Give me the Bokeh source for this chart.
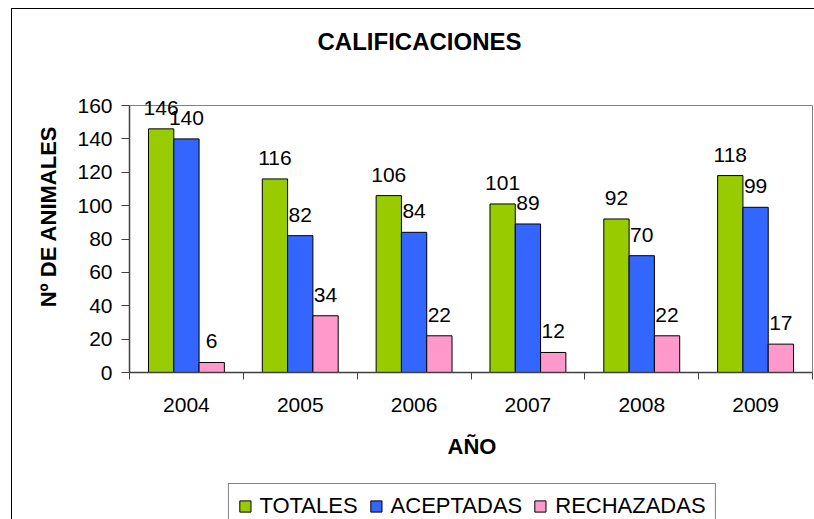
import numpy as np
from bokeh.plotting import figure
from bokeh.layouts import column
from bokeh.models import (Range1d, FixedTicker, CustomJSTickFormatter, LabelSet,
                          ColumnDataSource, Legend, LegendItem, Title)
from bokeh.core.properties import value
from bokeh.embed import file_html
from bokeh.resources import INLINE

# ---- data ----
years = ["2004", "2005", "2006", "2007", "2008", "2009"]
totales = [146, 116, 106, 101, 92, 118]
aceptadas = [140, 82, 84, 89, 70, 99]
rechazadas = [6, 34, 22, 12, 22, 17]
series_names = ["TOTALES", "ACEPTADAS", "RECHAZADAS"]
y_ticks = [0, 20, 40, 60, 80, 100, 120, 140, 160]
y_max = 160
title_text = "CALIFICACIONES"
x_title = "AÑO"
y_title = "Nº DE ANIMALES"

colors = ["#99CC00", "#3366FF", "#FF99CC"]
FONT = "Liberation Sans"

# ---- layout (page pixels) ----
ORIG_X, ORIG_Y = 12, 9          # canvas origin on the page (after css margin+border)
W = 802
H_MAIN = 472
H_LEG = 519 - ORIG_Y - H_MAIN
PLOT_L, PLOT_R, PLOT_T, PLOT_B = 129, 812, 105, 372   # plot-area box
FRAME_T, FRAME_R = 60, 814
LEG_T = 483

n = len(years)
px_x = (PLOT_R - PLOT_L) / n
px_y = (PLOT_B - PLOT_T) / y_max
x_end = n + (FRAME_R - PLOT_R) / px_x
y_end = y_max + (PLOT_T - FRAME_T) / px_y

p = figure(width=W, height=H_MAIN,
           x_range=Range1d(0, x_end), y_range=Range1d(0, y_end),
           output_backend="svg", toolbar_location=None,
           min_border_left=PLOT_L - ORIG_X, min_border_right=ORIG_X + W - FRAME_R,
           min_border_top=FRAME_T - ORIG_Y, min_border_bottom=ORIG_Y + H_MAIN - PLOT_B)
p.xgrid.visible = False
p.ygrid.visible = False
p.outline_line_color = None
p.background_fill_color = "white"
p.border_fill_color = "white"

# plot-area border
p.quad(left=[0], right=[n], bottom=[0], top=[y_max], fill_color=None,
       line_color="#808080", line_width=1)

bar_w = 1 / 4.5
offsets = [-bar_w, 0, bar_w]
sources = []
for vals, off, col in zip([totales, aceptadas, rechazadas], offsets, colors):
    xs = [i + 0.5 + off for i in range(n)]
    src = ColumnDataSource(dict(x=xs, top=vals, label=[str(v) for v in vals]))
    sources.append(src)
    p.vbar(x="x", top="top", width=bar_w, source=src,
           fill_color=col, line_color="black", line_width=1)
    p.add_layout(LabelSet(x="x", y="top", text="label", source=src,
                          text_align="center", text_baseline="alphabetic",
                          y_offset=14, text_font=value(FONT),
                          text_font_size="21px", text_color="black"))

# y axis
yax = p.yaxis[0]
yax.ticker = FixedTicker(ticks=y_ticks)
yax.bounds = (0, y_max)
yax.axis_line_color = "#404040"
yax.axis_line_width = 1.5
yax.major_tick_in = 0
yax.major_tick_out = 8
yax.major_tick_line_color = "#404040"
yax.minor_tick_line_color = None
yax.major_label_text_font = FONT
yax.major_label_text_font_size = "21px"
yax.major_label_text_color = "black"
yax.major_label_standoff = 9
yax.axis_label = y_title
yax.axis_label_text_font = FONT
yax.axis_label_text_font_style = "bold"
yax.axis_label_text_font_size = "22px"
yax.axis_label_text_color = "black"
yax.axis_label_standoff = 13

# x axis
xax = p.xaxis[0]
xax.ticker = FixedTicker(ticks=[i + 0.5 for i in range(n)],
                         minor_ticks=list(range(n + 1)))
xax.formatter = CustomJSTickFormatter(args=dict(years=years),
                                      code="return years[Math.floor(tick)];")
xax.bounds = (0, n)
xax.axis_line_color = "#404040"
xax.axis_line_width = 1.5
xax.major_tick_line_color = None
xax.major_tick_in = 0
xax.major_tick_out = 0
xax.minor_tick_in = 0
xax.minor_tick_out = 7
xax.minor_tick_line_color = "#404040"
xax.major_label_text_font = FONT
xax.major_label_text_font_size = "21px"
xax.major_label_text_color = "black"
xax.major_label_standoff = 18
xax.axis_label = x_title
xax.axis_label_text_font = FONT
xax.axis_label_text_font_style = "bold"
xax.axis_label_text_font_size = "22px"
xax.axis_label_text_color = "black"
xax.axis_label_standoff = 19

# title
p.add_layout(Title(text=title_text, align="left", offset=317 - PLOT_L,
                   text_font=FONT, text_font_style="bold", text_font_size="24px",
                   text_color="black", standoff=11), "above")

# ---- legend strip (second figure below the chart) ----
pl = figure(width=W, height=H_LEG, x_range=Range1d(0, 1), y_range=Range1d(0, 1),
            x_axis_type=None, y_axis_type=None,
            output_backend="svg", toolbar_location=None,
            min_border_left=0, min_border_right=0,
            min_border_top=LEG_T - (ORIG_Y + H_MAIN), min_border_bottom=0)
pl.xgrid.visible = False
pl.ygrid.visible = False
pl.outline_line_color = None
pl.background_fill_color = "white"
pl.border_fill_color = "white"
leg_rs = [pl.vbar(x="x", top="top", width=bar_w, source=s, fill_color=c,
                  line_color="black", line_width=1, visible=False)
          for s, c in zip(sources, colors)]
legend = Legend(items=[LegendItem(label=nm, renderers=[r]) for nm, r in zip(series_names, leg_rs)],
                orientation="horizontal", location="top_center",
                glyph_width=14, glyph_height=14, label_height=14,
                label_standoff=8, spacing=11,
                padding=9, margin=0,
                label_text_font=FONT, label_text_font_size="22px", label_text_color="black",
                border_line_color="black", border_line_width=1,
                background_fill_color="white", background_fill_alpha=1,
                inactive_fill_alpha=0)
pl.add_layout(legend)

layout = column(p, pl, spacing=0)
layout.styles = {"margin-left": "11px", "margin-top": "8px",
                 "border-left": "1px solid black", "border-top": "1px solid black"}

open("out.html", "w").write(file_html(layout, INLINE))
